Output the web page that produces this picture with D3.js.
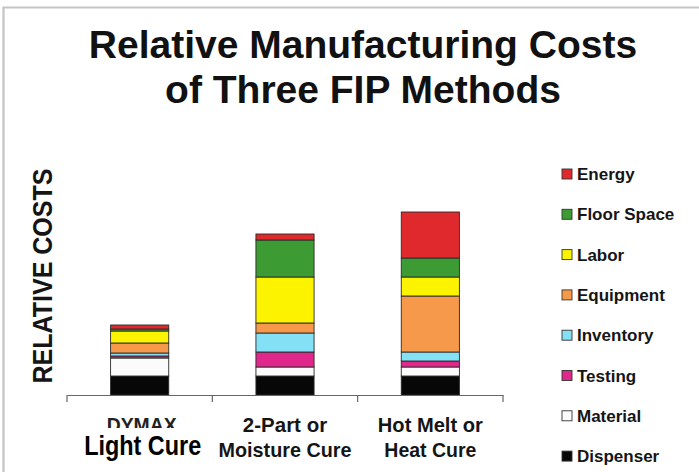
<!DOCTYPE html>
<html>
<head>
<meta charset="utf-8">
<script src="https://cdn.jsdelivr.net/npm/d3@7"></script>
<style>
  html, body { margin: 0; padding: 0; background: #fff; }
  svg { display: block; font-family: "Liberation Sans", Arial, Helvetica, sans-serif; }
</style>
</head>
<body>
<svg id="chart" width="699" height="472"></svg>
<script>
// Cost components, bottom of the stack first
const components = ["Dispenser", "Material", "Testing", "Inventory", "Equipment", "Labor", "Floor Space", "Energy"];
const componentColors = ["#070707", "#fbfbfb", "#e0288c", "#84e0f4", "#f7994a", "#fcf300", "#3c9c33", "#e0292c"];

// Fill-in-place methods (x categories)
const methods = ["DYMAX Light Cure", "2-Part or Moisture Cure", "Hot Melt or Heat Cure"];

// Relative cost of each component per method (same order as components)
const dymaxCosts   = [19, 18, 2, 3, 10, 12, 2, 4];
const twoPartCosts = [19, 9, 15, 19, 10, 46, 37, 6];
const hotMeltCosts = [19, 9, 6, 9, 56, 19, 19, 46];

// Legend order, top to bottom
const legendOrder = ["Energy", "Floor Space", "Labor", "Equipment", "Inventory", "Testing", "Material", "Dispenser"];

const costTable = [dymaxCosts, twoPartCosts, hotMeltCosts].map((vals, i) => {
  const row = { method: methods[i] };
  components.forEach((c, j) => { row[c] = vals[j]; });
  return row;
});

const svg = d3.select("#chart");

// Outer frame
svg.append("path")
  .attr("d", "M3.5,472 L3.5,7.5 L699,7.5")
  .attr("fill", "none")
  .attr("stroke", "#c4c4c4")
  .attr("stroke-width", 2.2);

// Title
const title = svg.append("text")
  .attr("text-anchor", "middle")
  .attr("font-weight", "bold")
  .attr("font-size", 39)
  .attr("fill", "#111");
title.append("tspan").attr("x", 363).attr("y", 58).text("Relative Manufacturing Costs");
title.append("tspan").attr("x", 363).attr("y", 103).text("of Three FIP Methods");

// Scales
const x = d3.scaleBand()
  .domain(methods)
  .range([67, 503])
  .paddingInner(0.6)
  .paddingOuter(0.3);

const y = d3.scaleLinear()
  .domain([0, 200])
  .range([395, 195]);

const color = d3.scaleOrdinal().domain(components).range(componentColors);

// Stacked bars
const series = d3.stack().keys(components)(costTable);

svg.append("g")
  .selectAll("g")
  .data(series)
  .join("g")
    .attr("fill", d => color(d.key))
  .selectAll("rect")
  .data(d => d)
  .join("rect")
    .attr("x", d => x(d.data.method))
    .attr("y", d => y(d[1]))
    .attr("width", x.bandwidth())
    .attr("height", d => y(d[0]) - y(d[1]))
    .attr("stroke", "#2a2a2a")
    .attr("stroke-width", 0.9);

// Baseline axis with ticks at the category boundaries
const axisG = svg.append("g")
  .attr("transform", `translate(0,${y(0)})`)
  .call(d3.axisBottom(x).tickSize(0).tickFormat(""));
axisG.select(".domain").attr("stroke", "#666").attr("stroke-width", 1.2);

const boundaries = methods.map(m => x(m) - x.step() * x.paddingOuter()).concat([x.range()[1]]);
axisG.selectAll(".bound")
  .data(boundaries)
  .join("line")
    .attr("class", "bound")
    .attr("x1", d => d).attr("x2", d => d)
    .attr("y1", 0).attr("y2", 7)
    .attr("stroke", "#666")
    .attr("stroke-width", 1.2);

// Category labels
const catLabels = [
  ["2-Part or", "Moisture Cure"],
  ["Hot Melt or", "Heat Cure"]
];
const catWidths = [[null, 133], [105, 92]];
catLabels.forEach((lines, i) => {
  const cx = x(methods[i + 1]) + x.bandwidth() / 2;
  lines.forEach((t, k) => {
    const el = svg.append("text")
      .attr("x", cx)
      .attr("y", k === 0 ? 432 : 457)
      .attr("text-anchor", "middle")
      .attr("font-weight", "bold")
      .attr("font-size", 20.5)
      .attr("fill", "#151515")
      .text(t);
    if (catWidths[i][k]) el.attr("textLength", catWidths[i][k]).attr("lengthAdjust", "spacingAndGlyphs");
  });
});

// First category: "DYMAX" with its lower part hidden under the "Light Cure" label
const c0 = x(methods[0]) + x.bandwidth() / 2;
svg.append("clipPath")
  .attr("id", "dymax-clip")
  .append("rect")
    .attr("x", 60).attr("y", 400)
    .attr("width", 170).attr("height", 28);
svg.append("text")
  .attr("x", c0 + 2)
  .attr("y", 432)
  .attr("clip-path", "url(#dymax-clip)")
  .attr("text-anchor", "middle")
  .attr("font-weight", "bold")
  .attr("font-size", 19.5)
  .attr("fill", "#222")
  .attr("textLength", 70)
  .attr("lengthAdjust", "spacingAndGlyphs")
  .text("DYMAX");
svg.append("text")
  .attr("x", c0 + 3)
  .attr("y", 455)
  .attr("text-anchor", "middle")
  .attr("font-weight", "bold")
  .attr("font-size", 28)
  .attr("fill", "#000")
  .attr("textLength", 117)
  .attr("lengthAdjust", "spacingAndGlyphs")
  .text("Light Cure");

// Y-axis title
svg.append("text")
  .attr("transform", "translate(52,276) rotate(-90)")
  .attr("text-anchor", "middle")
  .attr("font-weight", "bold")
  .attr("font-size", 27)
  .attr("fill", "#151515")
  .attr("textLength", 215)
  .attr("lengthAdjust", "spacingAndGlyphs")
  .text("RELATIVE COSTS");

// Legend
const legend = svg.append("g")
  .selectAll("g")
  .data(legendOrder)
  .join("g")
    .attr("transform", (d, i) => `translate(562,${174 + i * 40.3})`);
legend.append("rect")
  .attr("x", 0).attr("y", -5)
  .attr("width", 10).attr("height", 10)
  .attr("fill", d => color(d))
  .attr("stroke", "#333")
  .attr("stroke-width", 0.9);
legend.append("text")
  .attr("x", 15)
  .attr("y", 6)
  .attr("font-weight", "bold")
  .attr("font-size", 17)
  .attr("fill", "#151515")
  .text(d => d);
</script>
</body>
</html>
